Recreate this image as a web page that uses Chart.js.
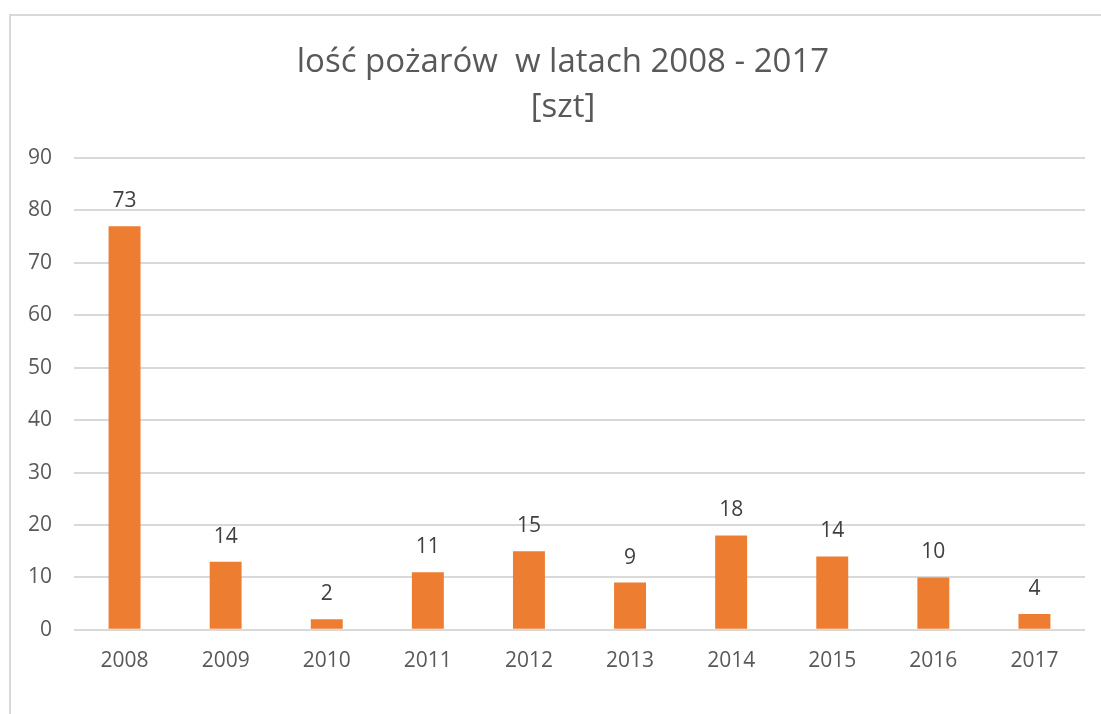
<!DOCTYPE html>
<html lang="pl">
<head>
    <meta charset="UTF-8">
    <script src="https://cdn.jsdelivr.net/npm/chart.js"></script>
    <title>Ilość pożarów w latach 2008 - 2017</title>
    <style>
        body { margin: 0; background: #fff; }
        #frame {
            position: absolute; left: 9px; top: 14px; width: 1100px; height: 710px;
            border-left: 2px solid #d9d9d9; border-top: 2px solid #d9d9d9;
        }
        #chartContainer { position: absolute; left: 0; top: 0; width: 1101px; height: 714px; }
    </style>
</head>
<body>
    <div id="frame"></div>
    <div id="chartContainer">
        <canvas id="fireChart" width="1101" height="714"></canvas>
    </div>

    <script>
        // dane z wykresu
        const years = ['2008', '2009', '2010', '2011', '2012', '2013', '2014', '2015', '2016', '2017'];
        const fires = [77, 13, 2, 11, 15, 9, 18, 14, 10, 3];          // wysokości słupków
        const fireLabels = ['73', '14', '2', '11', '15', '9', '18', '14', '10', '4']; // etykiety nad słupkami
        const yTicks = [0, 10, 20, 30, 40, 50, 60, 70, 80, 90];

        const textColor = '#595959';
        const fontFamily = '"Open Sans", sans-serif';

        // etykiety danych nad słupkami
        const barLabels = {
            id: 'barLabels',
            afterDatasetsDraw(chart) {
                const ctx = chart.ctx;
                const meta = chart.getDatasetMeta(0);
                ctx.save();
                ctx.font = '21px ' + fontFamily;
                ctx.fillStyle = '#404040';
                ctx.textAlign = 'center';
                ctx.textBaseline = 'middle';
                meta.data.forEach((bar, i) => {
                    ctx.fillText(fireLabels[i], bar.x, bar.y - 25);
                });
                ctx.restore();
            }
        };

        const ctx = document.getElementById('fireChart').getContext('2d');
        new Chart(ctx, {
            type: 'bar',
            data: {
                labels: years,
                datasets: [{
                    data: fires,
                    backgroundColor: '#ED7D31',
                    borderWidth: 0,
                    categoryPercentage: 1,
                    barPercentage: 0.316
                }]
            },
            options: {
                responsive: false,
                animation: false,
                layout: { padding: { left: 25, right: 0, top: 0, bottom: 21 } },
                plugins: {
                    legend: { display: false },
                    tooltip: { enabled: false },
                    title: {
                        display: true,
                        text: ['lość pożarów  w latach 2008 - 2017', '[szt]'],
                        color: textColor,
                        font: { family: fontFamily, size: 33, weight: 'normal', lineHeight: 1.364 },
                        padding: { top: 40, bottom: 28 }
                    }
                },
                scales: {
                    x: {
                        grid: { display: false, drawTicks: false },
                        border: { display: false },
                        ticks: { color: textColor, font: { family: fontFamily, size: 21 }, padding: 19 }
                    },
                    y: {
                        min: 0,
                        max: 90,
                        afterFit(scale) { scale.width = 49; },
                        afterBuildTicks(scale) { scale.ticks = yTicks.map(v => ({ value: v })); },
                        grid: { color: '#d9d9d9', lineWidth: 2, drawTicks: false },
                        border: { display: false },
                        ticks: { color: textColor, font: { family: fontFamily, size: 21 }, padding: 22 }
                    },
                    // pusty margines po prawej stronie obszaru wykresu
                    yRight: {
                        position: 'right',
                        afterFit(scale) { scale.width = 16; },
                        grid: { display: false, drawTicks: false },
                        border: { display: false },
                        ticks: { display: false }
                    }
                }
            },
            plugins: [barLabels]
        });
    </script>
</body>
</html>
